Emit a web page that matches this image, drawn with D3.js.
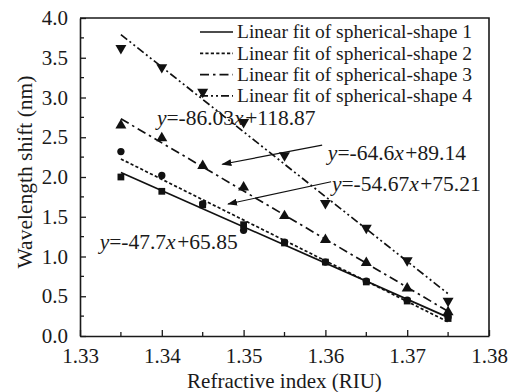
<!DOCTYPE html>
<html>
<head>
<meta charset="utf-8">
<script src="https://cdn.jsdelivr.net/npm/d3@7/dist/d3.min.js"></script>
<style>
  html, body { margin: 0; padding: 0; background: #fff; }
</style>
</head>
<body>
<svg id="chart" width="517" height="392"></svg>
<script>
// ---- data ----
const refractiveIndex = [1.335, 1.34, 1.345, 1.35, 1.355, 1.36, 1.365, 1.37, 1.375];
const shape1 = [2.00, 1.82, 1.65, 1.40, 1.17, 0.93, 0.68, 0.44, 0.22];
const shape2 = [2.32, 2.02, 1.66, 1.33, 1.18, 0.93, 0.69, 0.45, 0.24];
const shape3 = [2.65, 2.49, 2.14, 1.87, 1.51, 1.21, 0.92, 0.60, 0.30];
const shape4 = [3.62, 3.38, 3.07, 2.69, 2.27, 1.67, 1.36, 0.95, 0.44];
const seriesNames = [
  "Linear fit of spherical-shape 1",
  "Linear fit of spherical-shape 2",
  "Linear fit of spherical-shape 3",
  "Linear fit of spherical-shape 4"
];
const fitEquations = ["y=-47.7x+65.85", "y=-54.67x+75.21", "y=-64.6x+89.14", "y=-86.03x+118.87"];
const xTicks = [1.33, 1.34, 1.35, 1.36, 1.37, 1.38];
const yTicks = [0, 0.5, 1.0, 1.5, 2.0, 2.5, 3.0, 3.5, 4.0];
const xTitle = "Refractive index (RIU)";
const yTitle = "Wavelength shift (nm)";

// ---- layout ----
const W = 517, H = 392;
const FONT = '"Liberation Serif"';
const INK = "#1a1a1a";
const plot = { left: 80, right: 489, top: 18, bottom: 336 };
const svg = d3.select("#chart");
svg.append("rect").attr("width", W).attr("height", H).attr("fill", "#fff");

const x = d3.scaleLinear().domain([1.33, 1.38]).range([plot.left, plot.right]);
const y = d3.scaleLinear().domain([0, 4]).range([plot.bottom, plot.top]);

// series styles: line dash, marker symbol, rotation
const styles = [
  { dash: null,          symbol: d3.symbolSquare,   size: 46, rot: 0 },
  { dash: "3.2,2.2",     symbol: d3.symbolCircle,   size: 42, rot: 0 },
  { dash: "9,4,2.5,4",   symbol: d3.symbolTriangle, size: 52, rot: 0 },
  { dash: "8,3,2,3,2,3", symbol: d3.symbolTriangle, size: 52, rot: 180 }
];
const allSeries = [shape1, shape2, shape3, shape4];

// ---- minor ticks (inward) ----
const g = svg.append("g");
const xMinor = d3.range(1.335, 1.38, 0.01);
g.selectAll(".xminor").data(xMinor).join("line")
  .attr("x1", d => x(d)).attr("x2", d => x(d))
  .attr("y1", plot.bottom).attr("y2", plot.bottom - 4)
  .attr("stroke", INK).attr("stroke-width", 1.3);
const yMinor = d3.range(0.25, 4, 0.5);
g.selectAll(".yminor").data(yMinor).join("line")
  .attr("x1", plot.left).attr("x2", plot.left + 4)
  .attr("y1", d => y(d)).attr("y2", d => y(d))
  .attr("stroke", INK).attr("stroke-width", 1.3);

// ---- axes ----
const xAxis = d3.axisBottom(x).tickValues(xTicks).tickFormat(d3.format(".2f"))
  .tickSizeInner(-6).tickSizeOuter(0).tickPadding(12);
const yAxis = d3.axisLeft(y).tickValues(yTicks).tickFormat(d3.format(".1f"))
  .tickSizeInner(-6).tickSizeOuter(0).tickPadding(12);

const gx = svg.append("g").attr("transform", `translate(0,${plot.bottom})`).call(xAxis);
const gy = svg.append("g").attr("transform", `translate(${plot.left},0)`).call(yAxis);
[gx, gy].forEach(a => {
  a.select(".domain").attr("stroke", INK).attr("stroke-width", 1.6);
  a.selectAll(".tick line").attr("stroke", INK).attr("stroke-width", 1.3);
  a.selectAll(".tick text").attr("fill", INK)
    .style("font-family", FONT)
    .style("font-size", "21px");
});

// top and right frame
svg.append("path")
  .attr("d", `M${plot.left},${plot.top}H${plot.right}V${plot.bottom}`)
  .attr("fill", "none").attr("stroke", INK).attr("stroke-width", 1.6);

// ---- axis titles ----
svg.append("text")
  .attr("x", (plot.left + plot.right) / 2).attr("y", 388)
  .attr("text-anchor", "middle").attr("fill", INK)
  .style("font-family", FONT)
  .style("font-size", "21px").text(xTitle);
svg.append("text")
  .attr("transform", `translate(32,172) rotate(-90)`)
  .attr("text-anchor", "middle").attr("fill", INK)
  .style("font-family", FONT)
  .style("font-size", "21.5px").text(yTitle);

// ---- least-squares fit of each series ----
function linearFit(xs, ys) {
  const mx = d3.mean(xs), my = d3.mean(ys);
  const sxy = d3.sum(xs, (v, i) => (v - mx) * (ys[i] - my));
  const sxx = d3.sum(xs, v => (v - mx) * (v - mx));
  const slope = sxy / sxx;
  return { slope, intercept: my - slope * mx };
}

const lineGen = d3.line().x(d => x(d[0])).y(d => y(d[1]));
const xExtent = d3.extent(refractiveIndex);

allSeries.forEach((vals, i) => {
  const fit = linearFit(refractiveIndex, vals);
  const pts = xExtent.map(v => [v, fit.slope * v + fit.intercept]);
  svg.append("path")
    .datum(pts)
    .attr("d", lineGen)
    .attr("fill", "none")
    .attr("stroke", "#111")
    .attr("stroke-width", 1.7)
    .attr("stroke-dasharray", styles[i].dash);
});

// ---- markers ----
allSeries.forEach((vals, i) => {
  const st = styles[i];
  const sym = d3.symbol().type(st.symbol).size(st.size);
  svg.append("g").selectAll("path")
    .data(vals.map((v, j) => [refractiveIndex[j], v]))
    .join("path")
    .attr("d", sym)
    .attr("transform", d => `translate(${x(d[0])},${y(d[1])}) rotate(${st.rot})`)
    .attr("fill", "#111");
});

// ---- legend ----
const legend = svg.append("g");
seriesNames.forEach((name, i) => {
  const cy = 32 + i * 21.3;
  legend.append("line")
    .attr("x1", 200).attr("x2", 233).attr("y1", cy).attr("y2", cy)
    .attr("stroke", "#111").attr("stroke-width", 1.7)
    .attr("stroke-dasharray", styles[i].dash);
  legend.append("text")
    .attr("x", 237).attr("y", cy).attr("dy", "0.33em")
    .attr("fill", INK)
    .style("font-family", FONT)
    .style("font-size", "19.5px")
    .text(name);
});

// ---- fit equations with arrows ----
svg.append("defs").append("marker")
  .attr("id", "head").attr("viewBox", "0 0 10 7")
  .attr("refX", 9).attr("refY", 3.5)
  .attr("markerWidth", 10).attr("markerHeight", 7)
  .attr("markerUnits", "userSpaceOnUse")
  .attr("orient", "auto")
  .append("path").attr("d", "M0,0L10,3.5L0,7Z").attr("fill", "#111");

// label anchor (data units) and optional arrow [from, to] in data units
const eqPlacement = [
  { at: [1.3324, 1.10], arrow: null },
  { at: [1.3608, 1.83], arrow: [[1.3607, 1.94], [1.3481, 1.66]] },
  { at: [1.3603, 2.21], arrow: [[1.3596, 2.40], [1.3474, 2.16]] },
  { at: [1.3394, 2.65], arrow: null }
];

fitEquations.forEach((eq, i) => {
  const p = eqPlacement[i];
  const t = svg.append("text")
    .attr("x", x(p.at[0])).attr("y", y(p.at[1]))
    .attr("fill", INK)
    .style("font-family", FONT)
    .style("font-size", "21.5px");
  eq.split(/([xy+])/).filter(s => s.length).forEach(part => {
    const ts = t.append("tspan")
      .style("font-style", /^[xy]$/.test(part) ? "italic" : "normal")
      .text(part);
    if (part === "+") ts.attr("dx", 1.5);
  });
  if (p.arrow) {
    svg.append("line")
      .attr("x1", x(p.arrow[0][0])).attr("y1", y(p.arrow[0][1]))
      .attr("x2", x(p.arrow[1][0])).attr("y2", y(p.arrow[1][1]))
      .attr("stroke", "#111").attr("stroke-width", 1.2)
      .attr("marker-end", "url(#head)");
  }
});
</script>
</body>
</html>
